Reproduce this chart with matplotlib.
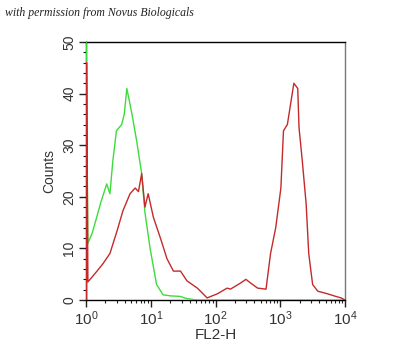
import matplotlib
matplotlib.use('Agg')
from matplotlib import pyplot as plt
from matplotlib.ticker import LogLocator, MultipleLocator

# FL2-H channel values and counts
green_x = [1.0, 1.0, 1.07, 1.25, 1.46, 1.7, 2.09, 2.34, 2.6, 2.95, 3.55, 3.9, 4.27,
           4.6, 5.13, 6.03, 7.24, 8.13, 9.77, 12.3, 15.5, 20.0, 28.2, 35.5, 51.3,
           100, 1000, 10000]
green_y = [0, 55, 11, 13, 16, 19, 22.5, 20.6, 27, 32.8, 34, 36, 41,
           39, 36, 31, 24.5, 17, 10, 3, 1, 0.8, 0.7, 0.3, 0,
           0, 0, 0]

red_x = [1.02, 1.02, 1.07, 1.25, 1.48, 1.82, 2.34, 3.02, 3.72, 4.79, 5.75, 6.46, 7.24,
         8.13, 9.12, 11.0, 14.1, 17.8, 22.4, 28.8, 36.3, 52.5, 74.1, 107, 151,
         170, 245, 295, 347, 447, 603, 708, 851, 1023, 1122, 1288, 1445, 1622,
         1862, 1950, 2188, 2512, 2754, 3162, 3802, 5370, 6761, 8710, 10000]
red_y = [0, 46, 3.5, 4.5, 5.6, 7, 9, 13.4, 17.3, 20.6, 21.7, 21, 24.5,
         18, 20.6, 16, 12, 8, 5.6, 5.6, 3.7, 2.3, 0.4, 1.2, 2.3,
         2.1, 3.3, 4, 3.3, 2.3, 2.1, 9, 14, 21.7, 32.8, 34, 38, 42,
         41, 33.4, 27, 18.6, 9, 3, 1.7, 1.2, 0.8, 0.4, 0]

plt.rcParams['font.family'] = ['Liberation Sans', 'DejaVu Sans']

fig = plt.figure(figsize=(4, 3.6), dpi=100)
ax = fig.add_axes([0.215, 0.1667, 0.6475, 0.7166])

ax.plot(green_x, green_y, color='#3ddc3d', lw=1.0, zorder=3)
ax.plot(red_x, red_y, color='#c42a2a', lw=1.0, zorder=3)

ax.set_xscale('log')
ax.set_xlim(1, 10000)
ax.set_ylim(0, 50)

ax.xaxis.set_major_locator(LogLocator(base=10, numticks=10))
ax.xaxis.set_minor_locator(LogLocator(base=10, subs=range(2, 10), numticks=10))
ax.yaxis.set_major_locator(MultipleLocator(10))
ax.yaxis.set_minor_locator(MultipleLocator(2))

ax.tick_params(axis='both', which='major', direction='out', length=5, width=1,
               colors='#222222', labelcolor='#333333')
ax.tick_params(axis='both', which='minor', direction='out', length=2.5, width=0.8,
               colors='#222222')
ax.tick_params(axis='x', labelsize=11, pad=2)
ax.tick_params(axis='y', labelsize=10, labelrotation=90, pad=2)
for lab in ax.get_yticklabels():
    lab.set_va('center')

ax.set_ylabel('Counts', fontsize=10, color='#333333', labelpad=4)
ax.set_xlabel('FL2-H', fontsize=11, color='#333333', labelpad=0)

for side in ['top', 'right', 'left', 'bottom']:
    ax.spines[side].set_linewidth(1.0)
ax.spines['right'].set_color('#777777')

fig.text(0.012, 0.955, 'with permission from Novus Biologicals', fontsize=8.5,
         style='italic', family='Liberation Serif', color='#222222')

plt.savefig('out.png', dpi=100)
